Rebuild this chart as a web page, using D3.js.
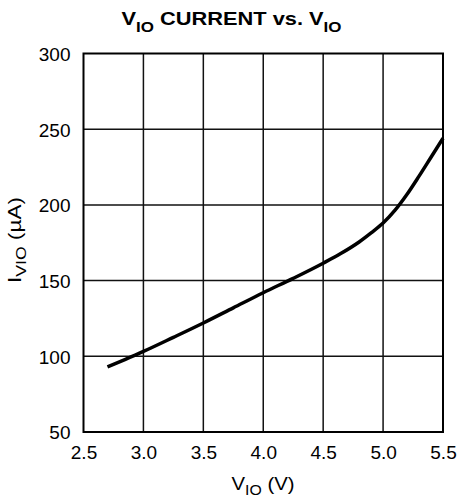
<!DOCTYPE html>
<html><head><meta charset="utf-8">
<script src="https://cdn.jsdelivr.net/npm/d3@7"></script>
<style>body{margin:0;background:#fff}svg{display:block}text{font-family:"Liberation Sans",Arial,sans-serif;fill:#000}</style>
</head><body>
<script>
const vio = [2.7, 2.85, 3.0, 3.25, 3.5, 3.75, 4.0, 4.25, 4.5, 4.65, 4.8, 4.9, 5.0, 5.1, 5.2, 5.3, 5.4, 5.5];
const ivio = [93, 98, 103.2, 112.5, 122, 132, 142, 151.5, 161.5, 168, 175.5, 181.5, 188, 196.5, 207, 219, 231.5, 244];
const xTicks = [2.5, 3.0, 3.5, 4.0, 4.5, 5.0, 5.5];
const yTicks = [50, 100, 150, 200, 250, 300];

const W = 459, H = 501;
const m = {l: 83.5, r: 443, t: 53.5, b: 432};
const svg = d3.select("body").append("svg").attr("width", W).attr("height", H);
const x = d3.scaleLinear().domain([2.5, 5.5]).range([m.l, m.r]);
const y = d3.scaleLinear().domain([50, 300]).range([m.b, m.t]);

// grid
svg.append("g").selectAll("line").data(xTicks.slice(1, -1)).join("line")
  .attr("x1", d => x(d)).attr("x2", d => x(d)).attr("y1", m.t).attr("y2", m.b)
  .attr("stroke", "#111").attr("stroke-width", 1.5);
svg.append("g").selectAll("line").data(yTicks.slice(1, -1)).join("line")
  .attr("y1", d => y(d)).attr("y2", d => y(d)).attr("x1", m.l).attr("x2", m.r)
  .attr("stroke", "#111").attr("stroke-width", 1.5);
svg.append("rect").attr("x", m.l).attr("y", m.t).attr("width", m.r - m.l).attr("height", m.b - m.t)
  .attr("fill", "none").attr("stroke", "#000").attr("stroke-width", 2);

// axes labels via d3 axes
const xa = svg.append("g").attr("transform", `translate(0,${m.b})`)
  .call(d3.axisBottom(x).tickValues(xTicks).tickFormat(d3.format(".1f")).tickSize(0).tickPadding(27));
const ya = svg.append("g").attr("transform", `translate(${m.l},0)`)
  .call(d3.axisLeft(y).tickValues(yTicks).tickFormat(d3.format("d")).tickSize(0).tickPadding(13));
[xa, ya].forEach(g => { g.select(".domain").remove();
  g.selectAll("text").attr("font-size", 19).attr("font-family", '"Liberation Sans",Arial,sans-serif').attr("fill", "#000"); });
ya.selectAll("text").attr("dy", "0.36em");
xa.selectAll("text").attr("dy", "0");

// curve
svg.append("path").datum(vio.map((v, i) => [v, ivio[i]]))
  .attr("fill", "none").attr("stroke", "#000").attr("stroke-width", 3.5)
  .attr("d", d3.line().x(d => x(d[0])).y(d => y(d[1])).curve(d3.curveMonotoneX));

// title
const t = svg.append("text").attr("x", 231.5).attr("y", 25).attr("text-anchor", "middle")
  .attr("font-size", 18).attr("font-weight", "bold")
  .attr("textLength", 220).attr("lengthAdjust", "spacingAndGlyphs");
t.append("tspan").text("V");
t.append("tspan").text("IO").attr("font-size", 14).attr("dy", 7);
t.append("tspan").text(" CURRENT vs. V").attr("dy", -7);
t.append("tspan").text("IO").attr("font-size", 14).attr("dy", 7);

// x label
const xl = svg.append("text").attr("x", 263).attr("y", 490).attr("text-anchor", "middle").attr("font-size", 18)
  .attr("textLength", 63).attr("lengthAdjust", "spacingAndGlyphs");
xl.append("tspan").text("V");
xl.append("tspan").text("IO").attr("font-size", 14).attr("dy", 5);
xl.append("tspan").text(" (V)").attr("dy", -5);

// y label
const yl = svg.append("text").attr("transform", `translate(21,240) rotate(-90)`)
  .attr("text-anchor", "middle").attr("font-size", 18)
  .attr("textLength", 86).attr("lengthAdjust", "spacingAndGlyphs");
yl.append("tspan").text("I");
yl.append("tspan").text("VIO").attr("font-size", 14).attr("dy", 5);
yl.append("tspan").text(" (µA)").attr("dy", -5);
</script>
</body></html>
